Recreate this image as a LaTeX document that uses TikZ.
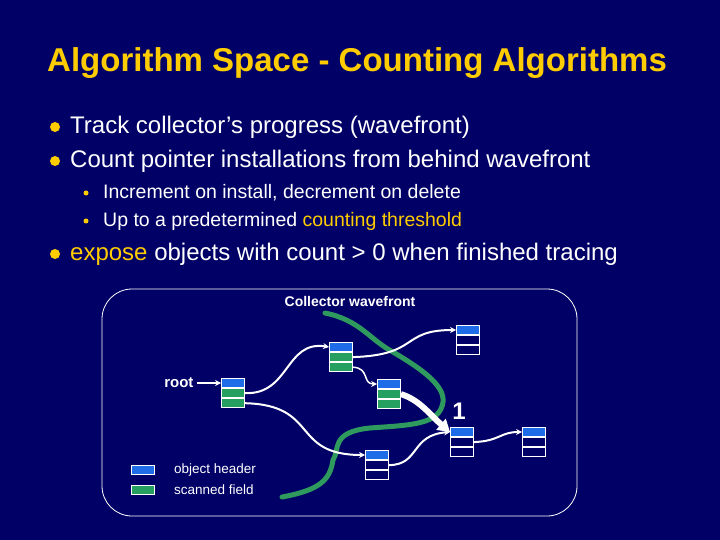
\documentclass[tikz,border=0pt]{standalone}
\usepackage{fontspec}
\setmainfont{Liberation Sans}
\usetikzlibrary{arrows.meta}
\definecolor{bg}{HTML}{000066}
\definecolor{ttl}{HTML}{FFCC00}
\definecolor{hb}{HTML}{1E6CE8}
\definecolor{sg}{HTML}{26A060}
\definecolor{wf}{HTML}{2E9A5E}
\begin{document}
\begin{tikzpicture}[x=1pt,y=-1pt,
  txt/.style={anchor=west,text=white,inner sep=0},
  cell/.style={draw=white,line width=0.8pt,minimum width=23pt,minimum height=9.3pt,inner sep=0},
  conn/.style={draw=white,line width=2pt,-{Stealth[length=6pt,width=6pt]}},
  bul/.style={circle,fill=ttl,inner sep=0,minimum size=#1}]
\fill[bg] (0,0) rectangle (720,540);
\useasboundingbox (0,0) rectangle (720,540);
\node[text=ttl,font=\bfseries\fontsize{33}{36}\selectfont] (title) at (357,63) {Algorithm Space - Counting Algorithms};
\node[bul=10pt] (b1) at (55,127) {};
\node[txt,font=\fontsize{24}{28}\selectfont] (t1) at (70,127) {Track collector’s progress (wavefront)};
\node[bul=10pt] (b2) at (55,161) {};
\node[txt,font=\fontsize{24}{28}\selectfont] (t2) at (70,161) {Count pointer installations from behind wavefront};
\node[bul=5pt] (b3) at (86,193) {};
\node[txt,font=\fontsize{19.5}{22}\selectfont] (t3) at (103,193) {Increment on install, decrement on delete};
\node[bul=5pt] (b4) at (86,221) {};
\node[txt,font=\fontsize{19.5}{22}\selectfont] (t4) at (103,221) {Up to a predetermined \textcolor{ttl}{counting threshold}};
\node[bul=10pt] (b5) at (55,254) {};
\node[txt,font=\fontsize{24}{28}\selectfont] (t5) at (70,254) {\textcolor{ttl}{expose} objects with count > 0 when finished tracing};
\draw[white,line width=0.8pt,rounded corners=30pt] (102,289) rectangle (577,516);
\node[text=white,font=\bfseries\fontsize{14}{16}\selectfont] (cw) at (350,301) {Collector wavefront};
% objects
\foreach \n/\x/\y/\a/\b in {r/233/383/sg/sg, A/341/347/sg/sg, B/389/384/sg/sg, C/468/330/bg/bg, D/462/432/bg/bg, E/377/455/bg/bg, F/534/432/bg/bg}{
  \node[cell,fill=hb] (\n1) at (\x,\y) {};
  \node[cell,fill=\a,anchor=north] (\n2) at (\n1.south) {};
  \node[cell,fill=\b,anchor=north] (\n3) at (\n2.south) {};
}
\node[text=white,font=\bfseries\fontsize{15}{17}\selectfont,anchor=east] (root) at (197,383) {root};
\node[text=white,font=\bfseries\fontsize{24}{26}\selectfont] (one) at (459,411) {1};
% wavefront
\draw[wf,line width=5pt,line cap=round] (325,313) .. controls (360,320) and (370,340) .. (393,352)
  .. controls (420,368) and (445,385) .. (443,402) .. controls (440,425) and (410,425) .. (370,428)
  .. controls (330,432) and (340,450) .. (333,460) .. controls (330,480) and (320,490) .. (282,497);
% connectors
\draw[conn] (root) -- (r1);
\draw[conn] (r2.east) .. controls (290,395) and (285,340) .. (A1.west);
\draw[conn] (r3.east) .. controls (320,405) and (290,455) .. (E1.west);
\draw[conn] (A2.east) .. controls (420,355) and (400,330) .. (C1.west);
\draw[conn,line width=1.5pt] (A3.east) .. controls (370,368) and (362,384) .. (B1.west);
\draw[white,line width=6pt,-{Triangle[length=12pt,width=14pt]}] (B2.east) .. controls (420,400) and (430,415) .. (D1.west);
\draw[conn] (E2.east) .. controls (420,465) and (410,435) .. (D1.west);
\draw[conn] (D2.east) .. controls (500,441) and (500,432) .. (F1.west);
% legend
\node[cell,fill=hb] (lh) at (143,470) {};
\node[cell,fill=sg] (ls) at (143,490) {};
\node[txt,font=\fontsize{13.5}{15}\selectfont] (lht) at (174,470) {object header};
\node[txt,font=\fontsize{13.5}{15}\selectfont] (lst) at (174,490) {scanned field};
\end{tikzpicture}
\end{document}
